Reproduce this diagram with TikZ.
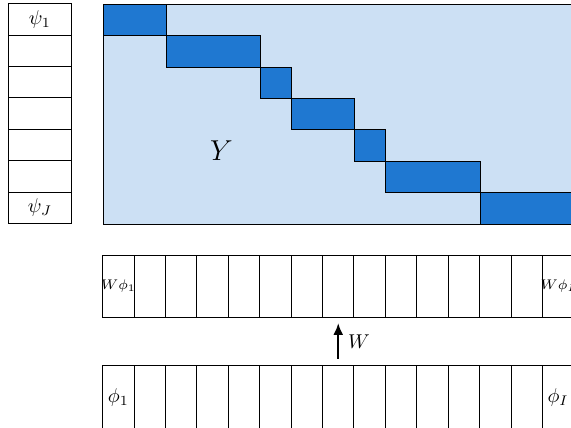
\documentclass[tikz,border=0pt]{standalone}
\usepackage{amsmath}
\usepackage{xcolor}
\usepackage{tikz}
\usetikzlibrary{positioning,arrows.meta}
\definecolor{ylight}{HTML}{CCE0F4}
\definecolor{yblock}{HTML}{1F78D1}
\def\cellsz{0.552cm}
\begin{document}
\begin{tikzpicture}[
  x=\cellsz,y=\cellsz,
  cell/.style={draw,line width=0.5pt,inner sep=0pt,minimum width=2*\cellsz,
               minimum height=\cellsz},
  vcell/.style={draw,line width=0.5pt,inner sep=0pt,minimum width=\cellsz,
                minimum height=2*\cellsz},
  ymat/.style={draw,line width=0.5pt,fill=ylight,inner sep=0pt,anchor=north west,
               minimum width=15*\cellsz,minimum height=7*\cellsz},
  blk/.style={draw,line width=0.5pt,fill=yblock,inner sep=0pt,anchor=north west,
              minimum height=\cellsz},
  flow/.style={-{Latex[length=6pt,width=5pt]},line width=1.2pt},
]
\useasboundingbox (-0.27,0.12) rectangle (17.91,-13.48);

% psi column
\foreach \i in {1,...,7}
  \node[cell] (psi\i) at (1,-\i+0.5) {};
\node at (psi1) {$\psi_1$};
\node at (psi7) {$\psi_J$};

% matrix Y and its blocks
\node[ymat] (Y) at (3,0) {};
\foreach \c/\w/\r in {0/2/0,2/3/1,5/1/2,6/2/3,8/1/4,9/3/5,12/3/6}
  \node[blk,minimum width=\w*\cellsz] (b\r) at (3+\c,-\r) {};
\node[font=\Large] (ylab) at (6.78,-4.68) {$Y$};

% rows W phi and phi (the lower one runs past the page)
\foreach \i in {1,...,15}{
  \node[vcell] (w\i) at (2.5+\i,-9) {};
  \node[vcell,minimum height=2.2*\cellsz,anchor=north] (p\i) at (2.5+\i,-11.5) {};
}
\node[font=\scriptsize,inner sep=0pt] at (w1) {$W\phi_1$};
\node[font=\scriptsize,inner sep=0pt] at (w15) {$W\phi_I$};
\node at ([yshift=0.05cm]p1) {$\phi_1$};
\node at ([yshift=0.05cm]p15) {$\phi_I$};

\draw[flow,shorten <=0.11cm,shorten >=0.08cm] (p8.north) -- node[right=1pt] {$W$} (w8.south);
\end{tikzpicture}
\end{document}
